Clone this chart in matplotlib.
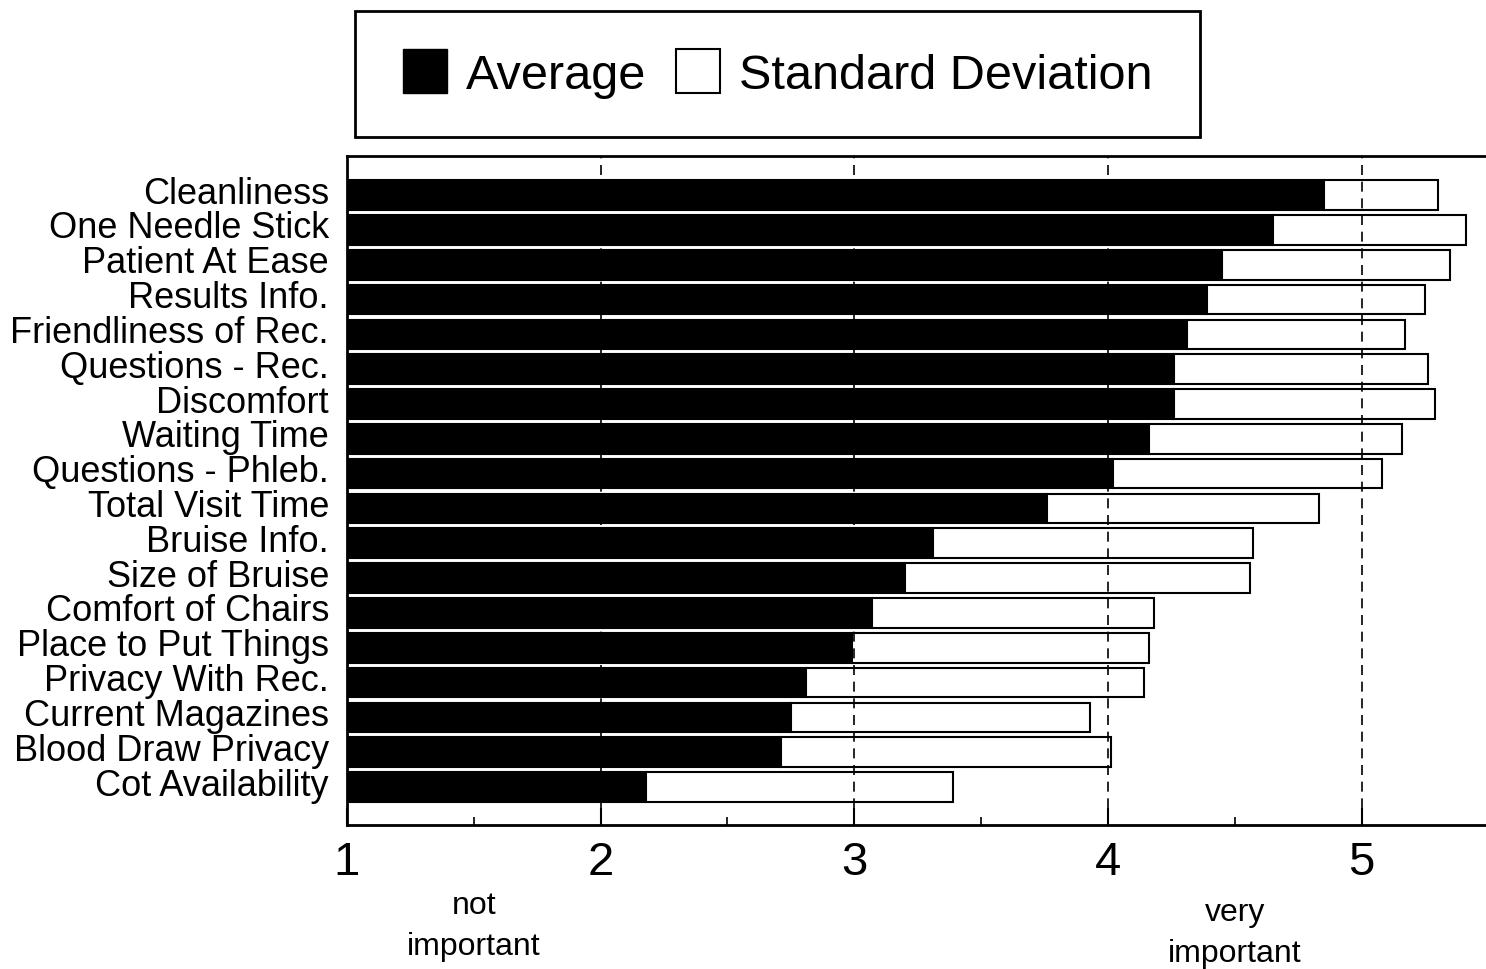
import matplotlib.pyplot as plt
from matplotlib.patches import Patch, Rectangle
from matplotlib.transforms import ScaledTranslation
import numpy as np

plt.rcParams['font.family'] = ['Liberation Sans', 'DejaVu Sans']

# survey items, top to bottom
items = ['Cleanliness', 'One Needle Stick', 'Patient At Ease', 'Results Info.',
         'Friendliness of Rec.', 'Questions - Rec.', 'Discomfort', 'Waiting Time',
         'Questions - Phleb.', 'Total Visit Time', 'Bruise Info.', 'Size of Bruise',
         'Comfort of Chairs', 'Place to Put Things', 'Privacy With Rec.',
         'Current Magazines', 'Blood Draw Privacy', 'Cot Availability']
average = [4.85, 4.65, 4.45, 4.39, 4.31, 4.26, 4.26, 4.16, 4.02, 3.76,
           3.31, 3.20, 3.07, 2.99, 2.81, 2.75, 2.71, 2.18]
std_dev = [0.45, 0.76, 0.90, 0.86, 0.86, 1.00, 1.03, 1.00, 1.06, 1.07,
           1.26, 1.36, 1.11, 1.17, 1.33, 1.18, 1.30, 1.21]
xticks = [1, 2, 3, 4, 5]

fig = plt.figure(figsize=(14.86, 9.70), dpi=100, facecolor='white')
ax = fig.add_axes([0.2335, 0.1485, 0.7665, 0.6895])

y = np.arange(len(items))
avg = np.array(average)
sd = np.array(std_dev)
base = 1.0

ax.barh(y, avg - base, left=base, height=0.85, color='black', edgecolor='black',
        linewidth=1.5, zorder=2)
ax.barh(y, sd, left=avg, height=0.85, color='white', edgecolor='black',
        linewidth=1.5, zorder=2)

for gx in xticks[1:]:
    ax.axvline(gx, color='black', linestyle=(0, (6, 4)), linewidth=1.2, zorder=3)

ax.set_xlim(1, 5.49)
ax.set_ylim(len(items) - 1 + 1.09, -1.12)

ax.set_yticks(y)
ax.set_yticklabels(items, fontsize=26)
ax.tick_params(axis='y', length=0, pad=13)
# labels sit a little above the bar centres
shift = ScaledTranslation(0, 0.06, fig.dpi_scale_trans)
for lab in ax.get_yticklabels():
    lab.set_transform(lab.get_transform() + shift)

ax.set_xticks(xticks)
ax.set_xticks([1.5, 2.5, 3.5, 4.5], minor=True)
ax.tick_params(axis='x', which='major', direction='in', length=12, width=1.5,
               labelsize=34, pad=11)
ax.tick_params(axis='x', which='minor', direction='in', length=6, width=1.2)

ax.spines['right'].set_visible(False)
for s in ['left', 'top', 'bottom']:
    ax.spines[s].set_linewidth(2)

trans = ax.get_xaxis_transform()
ax.text(1.5, -0.098, 'not\nimportant', transform=trans, ha='center', va='top',
        fontsize=23, linespacing=1.45)
ax.text(4.5, -0.108, 'very\nimportant', transform=trans, ha='center', va='top',
        fontsize=23, linespacing=1.45)

# legend box
fig.patches.append(Rectangle((0.239, 0.858), 0.5685, 0.1296, transform=fig.transFigure,
                             facecolor='white', edgecolor='black', linewidth=2))
handles = [Patch(facecolor='black', edgecolor='black', label='Average'),
           Patch(facecolor='white', edgecolor='black', linewidth=1.5, label='Standard Deviation')]
fig.legend(handles=handles, loc='center', bbox_to_anchor=(0.5235, 0.923), ncol=2,
           frameon=False, fontsize=35, handlelength=0.9, handleheight=1.0,
           handletextpad=0.4, columnspacing=0.6)

plt.savefig('out.png', dpi=100)
